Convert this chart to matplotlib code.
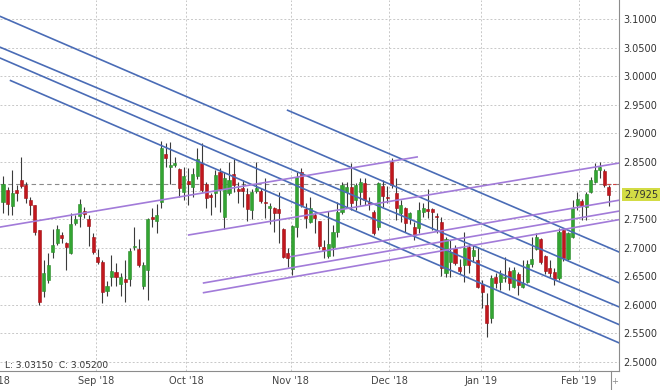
import matplotlib
matplotlib.use("Agg")
import matplotlib.pyplot as plt
import matplotlib.transforms as mtransforms
import numpy as np

# daily candles, Aug '18 - Feb '19
opens = [2.780, 2.801, 2.773, 2.801, 2.818, 2.810, 2.783, 2.775, 2.731, 2.624,
         2.643, 2.692, 2.708, 2.722, 2.708, 2.691, 2.743, 2.755, 2.764, 2.750,
         2.719, 2.684, 2.675, 2.624, 2.648, 2.657, 2.636, 2.645, 2.645, 2.701,
         2.698, 2.633, 2.661, 2.754, 2.747, 2.780, 2.864, 2.841, 2.845, 2.837,
         2.797, 2.817, 2.806, 2.825, 2.848, 2.811, 2.792, 2.796, 2.833, 2.754,
         2.796, 2.829, 2.803, 2.804, 2.794, 2.766, 2.799, 2.799, 2.780, 2.769,
         2.769, 2.768, 2.733, 2.691, 2.662, 2.736, 2.832, 2.768, 2.745, 2.757,
         2.747, 2.701, 2.685, 2.701, 2.727, 2.762, 2.797, 2.806, 2.783, 2.797,
         2.813, 2.780, 2.762, 2.736, 2.808, 2.789, 2.850, 2.795, 2.761, 2.769,
         2.752, 2.736, 2.734, 2.762, 2.768, 2.768, 2.755, 2.745, 2.656, 2.675,
         2.699, 2.666, 2.670, 2.701, 2.685, 2.678, 2.636, 2.600, 2.577, 2.649,
         2.640, 2.647, 2.659, 2.631, 2.654, 2.631, 2.640, 2.671, 2.697, 2.715,
         2.685, 2.664, 2.657, 2.647, 2.731, 2.680, 2.718, 2.775, 2.782, 2.771,
         2.797, 2.815, 2.836, 2.834, 2.806]
highs = [2.826, 2.806, 2.836, 2.810, 2.859, 2.815, 2.789, 2.775, 2.731, 2.679,
         2.690, 2.732, 2.740, 2.727, 2.710, 2.761, 2.757, 2.785, 2.771, 2.757,
         2.726, 2.697, 2.679, 2.641, 2.687, 2.673, 2.655, 2.678, 2.699, 2.736,
         2.715, 2.675, 2.752, 2.769, 2.776, 2.887, 2.883, 2.885, 2.859, 2.839,
         2.841, 2.839, 2.839, 2.874, 2.883, 2.815, 2.796, 2.836, 2.839, 2.832,
         2.850, 2.855, 2.815, 2.818, 2.804, 2.802, 2.850, 2.804, 2.822, 2.778,
         2.771, 2.797, 2.735, 2.699, 2.740, 2.832, 2.839, 2.778, 2.788, 2.761,
         2.747, 2.713, 2.764, 2.740, 2.780, 2.815, 2.815, 2.848, 2.813, 2.822,
         2.822, 2.789, 2.766, 2.815, 2.818, 2.808, 2.857, 2.822, 2.783, 2.771,
         2.762, 2.745, 2.780, 2.778, 2.803, 2.769, 2.761, 2.753, 2.719, 2.713,
         2.705, 2.680, 2.727, 2.705, 2.705, 2.701, 2.644, 2.621, 2.652, 2.656,
         2.661, 2.683, 2.666, 2.666, 2.657, 2.678, 2.678, 2.719, 2.726, 2.717,
         2.687, 2.678, 2.664, 2.734, 2.734, 2.727, 2.783, 2.797, 2.785, 2.797,
         2.824, 2.848, 2.850, 2.838, 2.810]
lows = [2.761, 2.758, 2.758, 2.782, 2.804, 2.778, 2.758, 2.722, 2.600, 2.614,
        2.638, 2.682, 2.704, 2.708, 2.661, 2.689, 2.740, 2.736, 2.752, 2.703,
        2.689, 2.672, 2.603, 2.615, 2.633, 2.633, 2.615, 2.605, 2.633, 2.696,
        2.666, 2.628, 2.608, 2.736, 2.726, 2.769, 2.842, 2.811, 2.841, 2.788,
        2.783, 2.774, 2.788, 2.820, 2.797, 2.769, 2.758, 2.771, 2.762, 2.733,
        2.792, 2.797, 2.778, 2.771, 2.747, 2.750, 2.795, 2.778, 2.752, 2.741,
        2.727, 2.709, 2.682, 2.666, 2.652, 2.719, 2.771, 2.734, 2.743, 2.726,
        2.698, 2.682, 2.682, 2.685, 2.718, 2.759, 2.771, 2.766, 2.766, 2.775,
        2.775, 2.766, 2.722, 2.731, 2.771, 2.778, 2.804, 2.748, 2.745, 2.727,
        2.741, 2.713, 2.726, 2.754, 2.752, 2.731, 2.726, 2.651, 2.649, 2.649,
        2.670, 2.654, 2.640, 2.656, 2.675, 2.629, 2.594, 2.544, 2.568, 2.629,
        2.626, 2.640, 2.626, 2.629, 2.617, 2.629, 2.638, 2.666, 2.696, 2.671,
        2.654, 2.649, 2.635, 2.643, 2.676, 2.678, 2.717, 2.766, 2.748, 2.748,
        2.796, 2.813, 2.822, 2.806, 2.773]
closes = [2.812, 2.776, 2.796, 2.796, 2.808, 2.787, 2.775, 2.727, 2.605, 2.656,
          2.670, 2.704, 2.733, 2.717, 2.701, 2.741, 2.751, 2.776, 2.759, 2.738,
          2.692, 2.675, 2.622, 2.633, 2.659, 2.648, 2.649, 2.640, 2.694, 2.703,
          2.670, 2.670, 2.750, 2.750, 2.757, 2.874, 2.857, 2.844, 2.848, 2.804,
          2.825, 2.811, 2.829, 2.855, 2.801, 2.787, 2.789, 2.827, 2.802, 2.822,
          2.818, 2.810, 2.799, 2.799, 2.767, 2.797, 2.804, 2.782, 2.778, 2.773,
          2.761, 2.761, 2.684, 2.682, 2.738, 2.824, 2.775, 2.752, 2.769, 2.752,
          2.703, 2.696, 2.706, 2.727, 2.762, 2.810, 2.806, 2.778, 2.810, 2.815,
          2.783, 2.776, 2.725, 2.813, 2.790, 2.787, 2.809, 2.769, 2.775, 2.743,
          2.761, 2.722, 2.766, 2.769, 2.764, 2.762, 2.754, 2.665, 2.715, 2.692,
          2.673, 2.659, 2.699, 2.670, 2.696, 2.631, 2.623, 2.568, 2.647, 2.638,
          2.654, 2.649, 2.638, 2.661, 2.635, 2.638, 2.671, 2.680, 2.719, 2.675,
          2.659, 2.656, 2.645, 2.727, 2.682, 2.726, 2.769, 2.785, 2.773, 2.794,
          2.818, 2.836, 2.841, 2.810, 2.7925]

month_labels = ["Aug '18", "Sep '18", "Oct '18", "Nov '18", "Dec '18", "Jan '19", "Feb '19"]

# trend lines: (bar index, price) start -> end
blue_lines = [((62.8, 2.941), (137.0, 2.690)),
              ((-0.7, 3.105), (137.0, 2.636)),
              ((-0.7, 3.051), (137.0, 2.594)),
              ((-0.7, 3.032), (137.0, 2.563)),
              ((1.5, 2.993), (137.0, 2.531))]
purple_lines = [((-0.7, 2.736), (91.8, 2.859)),
                ((40.9, 2.722), (137.0, 2.849)),
                ((44.2, 2.638), (137.0, 2.765)),
                ((44.2, 2.621), (137.0, 2.750)),
                ((63.5, 2.684), (137.0, 2.784))]

ref_level = 2.8114
last_price = closes[-1]

fig = plt.figure(figsize=(6.6, 3.9), dpi=100)
ax = fig.add_axes([0, 19 / 390, 619 / 660, 371 / 390])

GREEN = '#33a532'
RED = '#c2171d'
BLUE = '#4a6cb6'
PURPLE = '#a27bd9'

x = np.arange(len(opens))
o = np.array(opens)
c = np.array(closes)
up = c >= o

# grid
levels = np.round(np.arange(2.50, 3.101, 0.05), 2)
for lvl in levels:
    ax.axhline(lvl, color='#c8c8c8', lw=0.7, ls=(0, (2, 2)), zorder=0)
month_pos = [-2.5, 20.6, 40.5, 63.7, 85.4, 105.8, 127.4]
for p in month_pos:
    ax.axvline(p, color='#c8c8c8', lw=0.7, ls=(0, (2, 2)), zorder=0)

ax.axhline(ref_level, color='#8a8a8a', lw=0.8, ls=(0, (4, 3)), zorder=1)
ax.plot([133.6, 137], [ref_level, ref_level], color='#d04040', lw=0.8, ls=(0, (3, 2)), zorder=1)

# candles
ax.vlines(x, lows, highs, color='#3a3a3a', lw=0.8, zorder=2)
body_h = np.maximum(np.abs(c - o), 0.0015)
ax.bar(x[up], body_h[up], bottom=np.minimum(o, c)[up], width=0.68,
       color=GREEN, edgecolor='#2a8a2a', lw=0.4, zorder=3)
ax.bar(x[~up], body_h[~up], bottom=np.minimum(o, c)[~up], width=0.68,
       color=RED, edgecolor='#a01016', lw=0.4, zorder=3)

# trend lines
for (x0, y0), (x1, y1) in blue_lines:
    ax.plot([x0, x1], [y0, y1], color=BLUE, lw=1.2, zorder=4, solid_capstyle='butt')
for (x0, y0), (x1, y1) in purple_lines:
    ax.plot([x0, x1], [y0, y1], color=PURPLE, lw=1.2, zorder=4, solid_capstyle='butt')

ax.set_xlim(-0.664, 136.28)
ax.set_ylim(2.4842, 3.1334)

# right axis labels; the price tag sits on top of 2.8000
ax.yaxis.tick_right()
ax.set_yticks(levels)
ax.set_yticklabels(['' if abs(v - 2.80) < 1e-6 else '%.4f' % v for v in levels])
ax.tick_params(axis='y', length=0, pad=3, labelsize=7, labelcolor='#333333')
ax.set_xticks([])

for s in ['top', 'left']:
    ax.spines[s].set_visible(False)
for s in ['right', 'bottom']:
    ax.spines[s].set_color('#8c8c8c')
    ax.spines[s].set_linewidth(0.8)

# month labels under the axis
trans = mtransforms.blended_transform_factory(ax.transData, ax.transAxes)
for p, lab in zip(month_pos, month_labels):
    ax.text(p, -0.028, lab, transform=trans, ha='center', va='center',
            fontsize=7, color='#444444', clip_on=False)

# last price tag
ax.text(1.008, last_price, '%.4f' % last_price,
        transform=mtransforms.blended_transform_factory(ax.transAxes, ax.transData),
        ha='left', va='center', fontsize=7, color='#333333',
        bbox=dict(boxstyle='square,pad=0.15', facecolor='#d3dc45', edgecolor='none'))

ax.text(5 / 619, (371 - 365) / 371, 'L: 3.03150  C: 3.05200', transform=ax.transAxes,
        ha='left', va='center', fontsize=6.5, color='#333333')

fig.text(615 / 660, 9 / 390, '+', ha='center', va='center', fontsize=6, color='#888888')
fig.add_artist(plt.Line2D([611 / 660, 611 / 660], [0, 19 / 390], color='#8c8c8c', lw=0.8))

fig.savefig('out.png', dpi=100)
